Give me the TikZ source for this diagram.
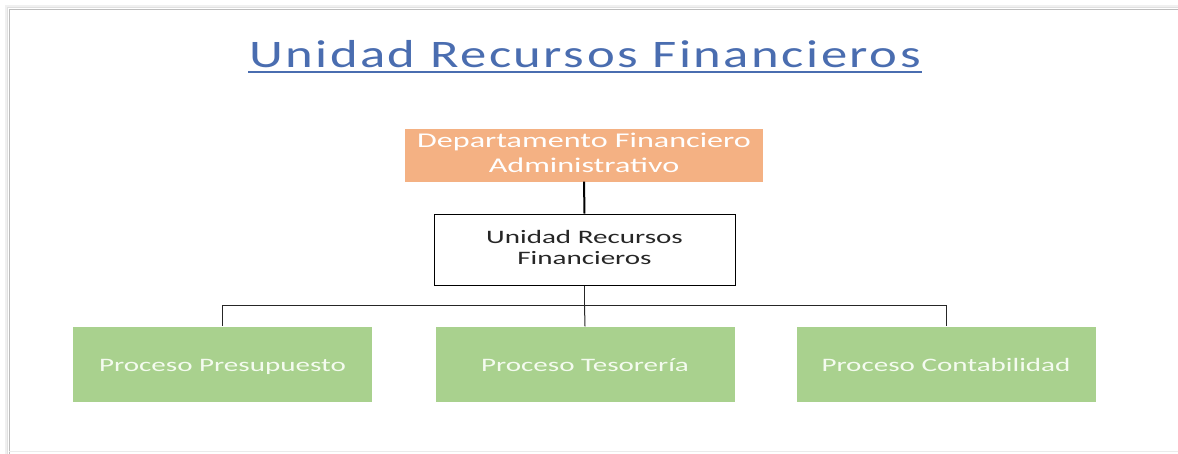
\documentclass[tikz,border=0pt]{standalone}
\usepackage{fontspec}
\setmainfont{Carlito}
\usepackage{graphicx}
\definecolor{titleblue}{HTML}{4A6DB0}
\definecolor{orangefill}{HTML}{F4B183}
\definecolor{greenfill}{HTML}{A9D18E}
\definecolor{greentext}{HTML}{F4FBEF}
\definecolor{framegray}{HTML}{BDBDBD}
\newcommand{\hs}[1]{\scalebox{1.53}[1]{#1}}
\tikzset{
  orgbox/.style={draw=none, fill=orangefill, minimum width=358pt, minimum height=53pt, inner sep=0pt, text=white, align=center, font=\fontsize{21pt}{24pt}\selectfont},
  unitbox/.style={draw=black, line width=1pt, fill=white, minimum width=301pt, minimum height=71pt, inner sep=0pt, text=black!85, align=center, font=\fontsize{19pt}{22pt}\selectfont},
  procbox/.style={draw=none, fill=greenfill, minimum width=299pt, minimum height=75pt, inner sep=0pt, text height=14pt, text depth=0pt, text=greentext, font=\fontsize{19pt}{22pt}\selectfont},
  conn/.style={draw=black!85, line width=1pt},
  connthick/.style={draw=black, line width=2pt}
}
\begin{document}
\begin{tikzpicture}[x=1pt, y=-1pt]
\useasboundingbox (0,0) rectangle (1178,453);
\fill[white] (0,0) rectangle (1178,453);
% slide frame with soft shadow
\draw[black!6, line width=3pt] (6,456) -- (6,6) -- (1182,6);
\draw[black!12, line width=1.5pt] (7.5,456) -- (7.5,7.5) -- (1182,7.5);
\draw[framegray, line width=1pt] (9,455) -- (9,9) -- (1182,9);
\draw[black!8, line width=1.5pt] (9,451.5) -- (1182,451.5);
% title
\node[text=titleblue, font=\fontsize{39pt}{44pt}\selectfont\addfontfeature{LetterSpace=4.8}, inner sep=0pt, anchor=base] (title) at (585,67) {\scalebox{1.35}[1]{Unidad Recursos Financieros}};
\draw[titleblue, line width=1.3pt] (248,72) -- (922,72);
% boxes
\node[orgbox] (dep) at (584,155) {\hs{\begin{tabular}{@{}c@{}}Departamento Financiero\\[1pt]Administrativo\end{tabular}}};
\node[unitbox] (urf) at (584.5,249.5) {\hs{\begin{tabular}{@{}c@{}}Unidad Recursos\\[-1pt]Financieros\end{tabular}}};
\node[procbox] (p1) at (222.5,364) {\hs{Proceso Presupuesto}};
\node[procbox] (p2) at (585,364) {\hs{Proceso Tesorería}};
\node[procbox] (p3) at (946,364) {\hs{Proceso Contabilidad}};
\coordinate (bus) at (584.5,305);
% connectors
\draw[connthick] (dep.south) -- (urf.north);
\draw[conn] (urf.south) -- (bus);
\draw[conn] (bus) -| (p1.north);
\draw[conn] (bus) -| (p3.north);
\draw[conn] (bus) -- (p2.north);
\end{tikzpicture}
\end{document}
